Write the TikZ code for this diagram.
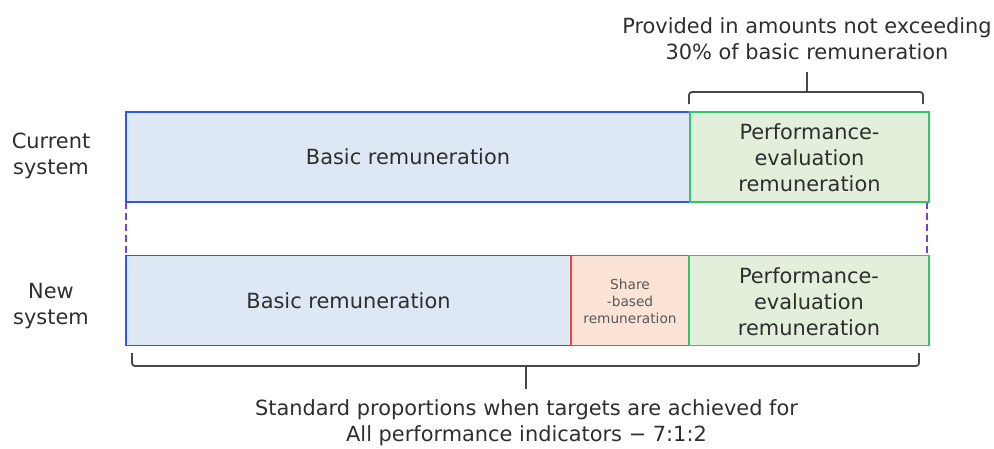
\documentclass[tikz,border=0pt]{standalone}
\usepackage{fontspec}
\setmainfont{DejaVu Sans}
\pgfdeclarelayer{background}
\pgfsetlayers{background,main}
\definecolor{basicfill}{HTML}{DEE8F4}
\definecolor{basicline}{HTML}{3158E0}
\definecolor{sharefill}{HTML}{FBE4D6}
\definecolor{shareline}{HTML}{FF3B3B}
\definecolor{perffill}{HTML}{E2EFDA}
\definecolor{perfline}{HTML}{33C46E}
\definecolor{guideline}{HTML}{7F3FBF}
\begin{document}
\begin{tikzpicture}[x=1pt,y=-1pt,
  txt/.style={text=black!82, font=\fontsize{20.9}{26}\selectfont, align=center, inner sep=0pt},
  small/.style={text=black!65, font=\fontsize{13.7}{17}\selectfont, align=center, inner sep=0pt},
  part/.style={draw, line width=1.6pt, inner sep=0pt, outer sep=0pt, minimum height=90pt},
  basic/.style={part, fill=basicfill, draw=basicline},
  share/.style={part, fill=sharefill, draw=shareline},
  perf/.style={part, fill=perffill, draw=perfline},
  bracket/.style={draw=black!72, line width=1.8pt, rounded corners=3pt},
  guide/.style={draw=guideline, line width=1.4pt, dash pattern=on 7pt off 4pt}]
\useasboundingbox (0,0) rectangle (994,448);

% row labels
\node[txt] (curlbl) at (51,156) {Current\\system};
\node[txt] (newlbl) at (51,306) {New\\system};

% current system
\node[basic, minimum width=564pt] (cb) at (408,157) {};
\node[perf,  minimum width=239pt] (cp) at (809.5,157) {};
% new system
\node[basic, minimum width=445pt] (nb) at (348.5,300.5) {};
\node[share, minimum width=118pt] (ns) at (630,300.5) {};
\node[perf,  minimum width=240pt] (np) at (809,300.5) {};

% dashed guides between the rows, behind the boxes
\begin{pgfonlayer}{background}
\draw[guide] (cb.south west) -- (nb.north west);
\draw[guide] ([xshift=-2pt]cp.south east) -- ([xshift=-2pt]np.north east);
\end{pgfonlayer}

% box texts
\node[txt] (cbt) at (cb.center) {Basic remuneration};
\node[txt] (cpt) at ([yshift=-1pt]cp.center) {Performance-\\evaluation\\remuneration};
\node[txt] (nbt) at (nb.center) {Basic remuneration};
\node[small] (nst) at ([yshift=-0.5pt]ns.center) {Share\\-based\\remuneration};
\node[txt] (npt) at ([yshift=-1pt]np.center) {Performance-\\evaluation\\remuneration};

% upper bracket and note
\node[txt] (topnote) at (807,39) {Provided in amounts not exceeding\\30\% of basic remuneration};
\coordinate (tl) at (689,104);
\coordinate (tr) at (923,104);
\coordinate (tm) at (807,92);
\draw[bracket] (tl) |- (tm) -| (tr);
\draw[bracket] (tm) -- ++(0,-20);

% lower bracket and note
\node[txt] (botnote) at (526.5,423) {Standard proportions when targets are achieved for\\All performance indicators − 7:1:2};
\coordinate (bl) at (132,353);
\coordinate (br) at (919,353);
\coordinate (bm) at (526,366);
\draw[bracket] (bl) |- (bm) -| (br);
\draw[bracket] (bm) -- ++(0,23);
\end{tikzpicture}
\end{document}
